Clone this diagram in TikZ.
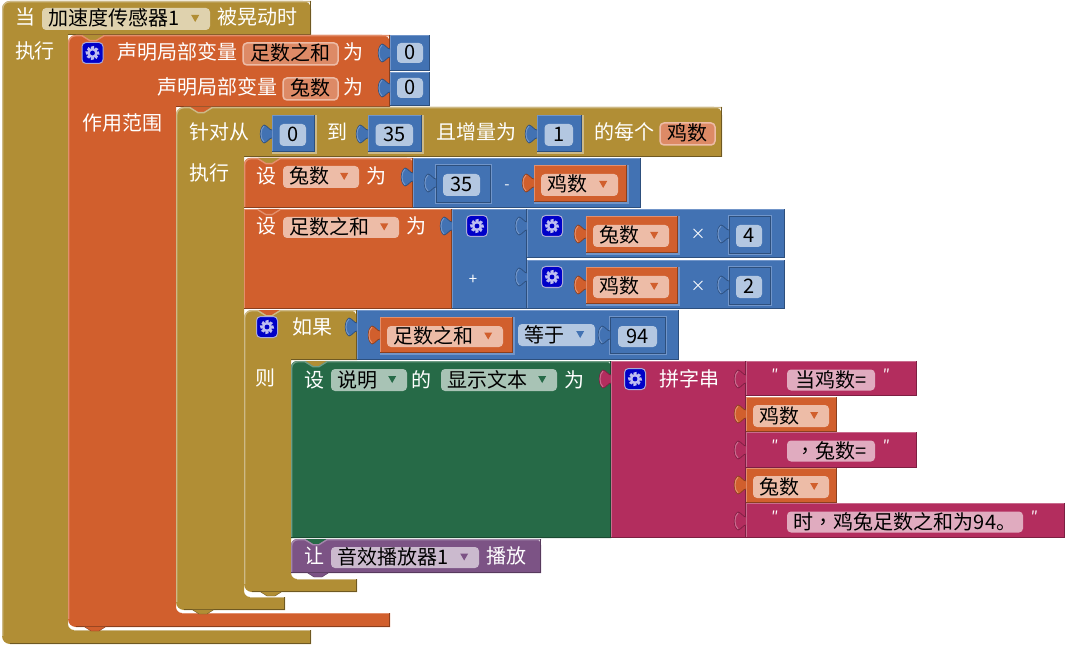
\documentclass[tikz,border=0pt]{standalone}
\usepackage{fontspec}
\setmainfont{Noto Sans CJK SC}
\newfontfamily\tcfont{Noto Sans CJK TC}
\usetikzlibrary{calc}

\definecolor{bronze}{HTML}{B18E35}
\definecolor{bronzeL}{HTML}{CDB987}
\definecolor{bronzeD}{HTML}{6F5922}
\definecolor{bronzeF}{HTML}{DFD2AE}
\definecolor{orange}{HTML}{D15F2D}
\definecolor{orangeL}{HTML}{E38F6C}
\definecolor{orangeD}{HTML}{8A3F1E}
\definecolor{orangeF}{HTML}{EDBCA7}
\definecolor{blue}{HTML}{4272B3}
\definecolor{blueL}{HTML}{7195C9}
\definecolor{blueD}{HTML}{2D4F7D}
\definecolor{blueF}{HTML}{B3C7E1}
\definecolor{green}{HTML}{266A47}
\definecolor{greenL}{HTML}{6F9C85}
\definecolor{greenD}{HTML}{1A4A31}
\definecolor{greenF}{HTML}{A8C3B5}
\definecolor{rose}{HTML}{B32D5E}
\definecolor{roseL}{HTML}{C96C8E}
\definecolor{roseD}{HTML}{7D1F42}
\definecolor{roseF}{HTML}{E0ABBF}
\definecolor{purple}{HTML}{7C5385}
\definecolor{purpleL}{HTML}{A387AA}
\definecolor{purpleD}{HTML}{573A5D}
\definecolor{purpleF}{HTML}{CBBACE}
\definecolor{nameF}{HTML}{DD8A66}
\definecolor{gearB}{HTML}{0000C8}
\definecolor{gearE}{HTML}{AAAAD7}
\definecolor{gearW}{HTML}{BEBEF0}

\tikzset{
	lbl/.style={inner sep=0pt,text=white,font=\fontsize{20}{20}\selectfont,text height=17pt,text depth=3pt},
	val/.style={lbl,text=black},
	opr/.style={lbl,font=\fontsize{15}{15}\selectfont},
	fieldshape/.style={inner sep=0pt,rounded corners=4pt},
	namebox/.style={fieldshape,fill=nameF,draw=orangeF,line width=1.5pt}
}

% plain block, light on top and left, dark on bottom and right
\newcommand{\blk}[5]{
	\fill[#1] (#2,#3) rectangle (#4,#5);
	\draw[#1L,line width=1.4pt] (#2+.7,#5) -- (#2+.7,#3+.7) -- (#4,#3+.7);
	\draw[#1D] (#2,#5-.5) -- (#4-.5,#5-.5) -- (#4-.5,#3);
}
% same with a round corner top left
\newcommand{\sblk}[5]{
	\fill[#1] (#4,#3) -- (#4,#5) -- (#2,#5) [rounded corners=6pt] -- (#2,#3) -- cycle;
	\draw[#1L,line width=1.4pt,rounded corners=6pt] (#2+.7,#5) -- (#2+.7,#3+.7) -- (#4,#3+.7);
	\draw[#1D] (#2,#5-.5) -- (#4-.5,#5-.5) -- (#4-.5,#3);
}
% clamp block: colour, left, top, header right, header bottom, inner left, bar top, bar right, bar bottom
\newcommand{\cblk}[9]{
	\fill[#1] (#4,#3) -- (#4,#5) -- (#6,#5) [rounded corners=6pt] -- (#6,#7) [sharp corners] -- (#8,#7) -- (#8,#9) [rounded corners=8pt] -- (#2,#9) -- (#2,#3) -- cycle;
	\draw[#1L,line width=1.4pt,rounded corners=7pt] (#2+.7,#9-8) -- (#2+.7,#3+.7) -- (#4,#3+.7);
	\draw[#1L,line width=1.4pt] (#6+6,#7+.7) -- (#8,#7+.7);
	\draw[#1D] (#4-.5,#3) -- (#4-.5,#5-.5) -- (#6,#5-.5);
	\draw[#1D] (#2+8,#9-.5) -- (#8-.5,#9-.5) -- (#8-.5,#7);
}
% plugged block with a pale rim on bottom and right
\newcommand{\vblk}[6]{
	\fill[#2] (#3,#4) rectangle (#5+2,#6+2);
	\blk{#1}{#3}{#4}{#5}{#6}
}
% number socket on blue
\newcommand{\inblk}[4]{
	\fill[blueL] (#1-1,#2-1) rectangle (#3+2,#4+2);
	\fill[blue,draw=blueD] (#1,#2) rectangle (#3,#4);
}
\newcommand{\plugin}[3]{
	\fill[#1,draw=#1D,line width=.7pt] (#2,#3-4) .. controls (#2-3,#3-4) and (#2-4,#3-8) .. (#2-8,#3-9) .. controls (#2-13,#3-6) and (#2-13,#3+6) .. (#2-8,#3+9) .. controls (#2-4,#3+8) and (#2-3,#3+4) .. (#2,#3+4);
	\draw[#1L,line width=1pt] (#2-8,#3-8) .. controls (#2-12,#3-5) and (#2-12,#3+5) .. (#2-8,#3+8);
}
\newcommand{\notchin}[4]{
	\fill[#1] (#3+14,#4) -- (#3+22,#4+5) -- (#3+28,#4+5) -- (#3+36,#4) -- cycle;
	\draw[#2L,line width=1.4pt] (#3+14,#4+.7) -- (#3+22,#4+5.7) -- (#3+28,#4+5.7) -- (#3+36,#4+.7);
}
\newcommand{\tabout}[3]{
	\fill[#1,draw=#1D] (#2+16,#3-.5) -- (#2+23,#3+4) -- (#2+31,#3+4) -- (#2+38,#3-.5) -- cycle;
}
\newcommand{\gearbtn}[3]{
	\draw[fill=gearB,draw=gearE,line width=1pt,rounded corners=4pt] (#2-10.5,#3-10.5) rectangle (#2+10.5,#3+10.5);
	\foreach \a in {0,45,...,315}
		\fill[gearW] (#2,#3) ++(\a-14:6.5) -- ++(\a+76:3.2) -- ++(\a:-3) -- ++(\a+76:-3) -- cycle;
	\fill[gearW] (#2,#3) circle (5);
	\fill[gearB] (#2,#3) circle (2.4);
	\coordinate (#1) at (#2,#3);
}
% field with centred text: name, style, x1, y1, x2, y2, text
\newcommand{\valbox}[7]{
	\pgfmathsetmacro{\fw}{(#5)-(#3)}
	\pgfmathsetmacro{\fh}{(#6)-(#4)}
	\node[#2,minimum width=\fw pt,minimum height=\fh pt] (#1) at ({(#3+#5)/2},{(#4+#6)/2}) {};
	\node[val] (#1-t) at (#1.center) {#7};
}
% drop down field: name, colour, x1, y1, x2, y2, text
\newcommand{\ddbox}[7]{
	\pgfmathsetmacro{\fw}{(#5)-(#3)}
	\pgfmathsetmacro{\fh}{(#6)-(#4)}
	\node[fieldshape,fill=#2F,minimum width=\fw pt,minimum height=\fh pt] (#1) at ({(#3+#5)/2},{(#4+#6)/2}) {};
	\node[val,anchor=west] (#1-t) at ($(#1.west)+(6,0)$) {#7};
	\fill[#2] ($(#1.east)+(-19,-4)$) -- ($(#1.east)+(-11,-4)$) -- ($(#1.east)+(-15,3)$) -- cycle;
}

\begin{document}
\begin{tikzpicture}[x=1pt,y=-1pt]
	\useasboundingbox (0,0) rectangle (1066,647);

	% outer event block
	\cblk{bronze}{2}{1}{311}{35}{68}{630}{311}{644}
	\node[lbl] (whenlbl) at (25,18) {当};
	\ddbox{sensorfield}{bronze}{42}{8}{210}{30}{加速度传感器1}
	\node[lbl] (shakenlbl) at (257,18) {被晃动时};
	\node[lbl] (dolbl) at (35,52) {执行};

	% local variables
	\cblk{orange}{68}{35}{390}{107}{176}{613}{390}{627}
	\notchin{bronze}{orange}{68}{35}
	\tabout{orange}{68}{627}
	\gearbtn{localgear}{92.5}{53}
	\node[lbl] (localone) at (177,53) {声明局部变量};
	\valbox{sumname}{namebox}{243}{43}{338}{65}{足数之和}
	\node[lbl] (isone) at (353,53) {为};
	\node[lbl] (localtwo) at (217,88) {声明局部变量};
	\valbox{rabname}{namebox}{283}{78}{338}{100}{兔数}
	\node[lbl] (istwo) at (353,88) {为};
	\node[lbl] (scopelbl) at (122,124) {作用范围};
	\blk{blue}{390}{35}{430}{71}
	\blk{blue}{390}{72}{430}{106}
	\foreach \y/\n in {53/zeroone,88/zerotwo} {
		\plugin{blue}{390}{\y}
		\valbox{\n}{fieldshape,fill=blueF}{397}{\y-10}{423}{\y+10}{0}
	}

	% counting loop
	\cblk{bronze}{176}{107}{722}{157}{244}{597}{285}{610}
	\notchin{orange}{bronze}{176}{107}
	\tabout{bronze}{176}{610}
	\node[lbl] (forlbl) at (219,133) {针对从};
	\node[lbl] (tolbl) at (337,133) {到};
	\node[lbl] (steplbl) at (476,133) {且增量为};
	\node[lbl] (eachlbl) at (624,133) {的每个};
	\node[lbl] (loopdo) at (209,174) {执行};
	\foreach \a/\b/\v/\n in {272/315/0/fromval,368/422/35/toval,537/582/1/stepval} {
		\vblk{blue}{bronzeL}{\a}{115}{\b}{152}
		\plugin{blue}{\a}{134}
		\valbox{\n}{fieldshape,fill=blueF}{\a+7.5}{124}{\b-9}{146}{\v}
	}
	\valbox{chickname}{namebox}{660}{123}{715}{145}{鸡数}

	% set rabbits
	\sblk{orange}{244}{158}{413}{208}
	\notchin{bronze}{orange}{244}{158}
	\node[lbl] (setone) at (266,177) {设};
	\ddbox{rabset}{orange}{283}{166}{359}{188}{兔数}
	\node[lbl] (setoneis) at (376,177) {为};
	\blk{blue}{413}{158}{641}{208}
	\plugin{blue}{413}{177}
	\inblk{436}{165}{490}{202}
	\plugin{blue}{436}{183}
	\valbox{thirtyfive}{fieldshape,fill=blueF}{443}{174}{480}{196}{35}
	\node[opr] (minuslbl) at (507,183) {-};
	\vblk{orange}{blueL}{534}{165}{627}{202}
	\plugin{orange}{534}{183}
	\ddbox{chickget}{orange}{541}{174}{618}{196}{鸡数}

	% set legs
	\blk{orange}{244}{209}{452}{309}
	\notchin{orange}{orange}{244}{209}
	\node[lbl] (settwo) at (266,227) {设};
	\ddbox{sumset}{orange}{283}{217}{399}{238}{足数之和}
	\node[lbl] (settwois) at (416,227) {为};
	\blk{blue}{452}{209}{527}{309}
	\plugin{blue}{452}{226}
	\gearbtn{addgear}{477}{226}
	\node[opr] (pluslbl) at (473,277) {+};
	\foreach \y/\nm/\v/\n in {209/兔数/4/rab,260/鸡数/2/chick} {
		\blk{blue}{527}{\y}{785}{\y+49}
		\plugin{blue}{527}{\y+17}
		\gearbtn{\n gear}{552}{\y+17}
		\vblk{orange}{blueL}{586}{\y+7}{678}{\y+44}
		\plugin{orange}{586}{\y+25}
		\ddbox{\n get}{orange}{593}{\y+16}{669}{\y+38}{\nm}
		\node[opr] (\n times) at (698,\y+24) {×};
		\inblk{729}{\y+7}{770}{\y+44}
		\plugin{blue}{729}{\y+25}
		\valbox{\n val}{fieldshape,fill=blueF}{736}{\y+16}{762}{\y+38}{\v}
	}

	% if block
	\cblk{bronze}{244}{310}{357}{360}{291}{579}{357}{592}
	\notchin{orange}{bronze}{244}{310}
	\tabout{bronze}{244}{592}
	\gearbtn{ifgear}{267}{327}
	\node[lbl] (iflbl) at (312,327) {如果};
	\node[lbl] (thenlbl) at (265,378) {则};
	\blk{blue}{357}{310}{679}{360}
	\plugin{blue}{357}{327}
	\vblk{orange}{blueL}{380}{317}{513}{353}
	\plugin{orange}{380}{335}
	\ddbox{sumget}{orange}{387}{326}{503}{347}{足数之和}
	\ddbox{equalfield}{blue}{518}{324}{595}{346}{等于}
	\inblk{610}{317}{665}{353}
	\plugin{blue}{610}{335}
	\valbox{ninetyfour}{fieldshape,fill=blueF}{618}{326}{657}{347}{94}

	% set label text
	\sblk{green}{291}{361}{611}{538}
	\notchin{bronze}{green}{291}{361}
	\node[lbl] (setthree) at (314,380) {设};
	\ddbox{notefield}{green}{331}{369}{407}{391}{说明}
	\node[lbl] (oflbl) at (421,380) {的};
	\ddbox{textfield}{green}{441}{369}{557}{391}{显示文本}
	\node[lbl] (setthreeis) at (574,380) {为};

	% join with its strings
	\blk{rose}{611}{361}{746}{538}
	\plugin{rose}{611}{379}
	\gearbtn{joingear}{635}{379}
	\node[lbl] (joinlbl) at (689,379) {拼字串};
	\foreach \t/\b/\r/\n/\s in {361/396/917/strone/当鸡数=,432/468/917/strtwo/{{\tcfont ，}兔数=},503/538/1065/strthree/{时{\tcfont ，}鸡兔足数之和为94。}} {
		\blk{rose}{746}{\t}{\r}{\b}
		\plugin{rose}{746}{\t+18}
		\valbox{\n}{fieldshape,fill=roseF}{787}{\t+8.5}{\r-42}{\t+29.5}{\s}
		\node[opr] (\n-open) at (775,\t+12) {″};
		\node[opr] (\n-close) at (\r-30.5,\t+12) {″};
	}
	\foreach \t/\b/\nm/\n in {397/432/鸡数/chickjoin,468/503/兔数/rabjoin} {
		\blk{orange}{746}{\t}{837}{\b}
		\plugin{orange}{746}{\t+17}
		\ddbox{\n}{orange}{753}{\t+8}{829}{\t+30}{\nm}
	}

	% play sound
	\sblk{purple}{291}{539}{541}{573}
	\notchin{green}{purple}{291}{539}
	\tabout{purple}{291}{573}
	\node[lbl] (letlbl) at (314,556) {让};
	\ddbox{soundfield}{purple}{331}{547}{479}{568}{音效播放器1}
	\node[lbl] (playlbl) at (506,556) {播放};
\end{tikzpicture}
\end{document}
